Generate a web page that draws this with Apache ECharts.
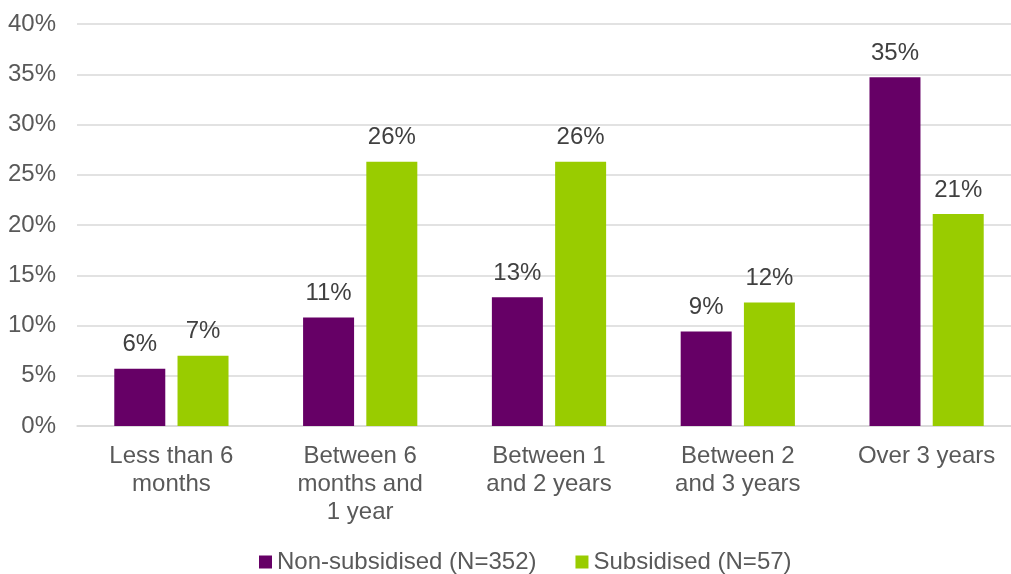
<!DOCTYPE html>
<html>
<head>
<meta charset="utf-8">
<script src="https://cdn.jsdelivr.net/npm/echarts@6/dist/echarts.min.js"></script>
<style>
  html, body { margin: 0; padding: 0; background: #fff; overflow: hidden; }
  /* the plot area continues a little past the right edge of the window */
  #chart { width: 1021px; height: 574px; }
</style>
</head>
<body>
<div id="chart"></div>
<script>
// Length of time in role, by subsidy status (% of respondents)
const categories = ['Less than 6\nmonths', 'Between 6\nmonths and\n1 year', 'Between 1\nand 2 years', 'Between 2\nand 3 years', 'Over 3 years'];
const nonSubsidised = [5.7, 10.8, 12.8, 9.4, 34.7];
const subsidised = [7.0, 26.3, 26.3, 12.3, 21.1];
const seriesNames = ['Non-subsidised (N=352)', 'Subsidised (N=57)'];
const yTicks = { min: 0, max: 40, interval: 5 };

const FONT = '"Liberation Sans", Arial, sans-serif';
const TEXT = '#595959';

const chart = echarts.init(document.getElementById('chart'));

function barSeries(name, data, color) {
  return {
    name: name,
    type: 'bar',
    data: data,
    barWidth: 51,
    barGap: '24%',
    itemStyle: { color: color },
    label: {
      show: true,
      position: 'top',
      distance: 12,
      color: '#404040',
      fontFamily: FONT,
      fontSize: 24,
      formatter: p => Math.round(p.value) + '%'
    }
  };
}

chart.setOption({
  animation: false,
  textStyle: { fontFamily: FONT },
  grid: { left: 77, right: 0, top: 24, bottom: 148, containLabel: false },
  legend: {
    left: 259,
    top: 550,
    padding: 0,
    itemWidth: 13,
    itemHeight: 13,
    itemGap: 39,
    icon: 'rect',
    textStyle: { color: TEXT, fontSize: 24, fontFamily: FONT, lineHeight: 24 },
    data: seriesNames
  },
  xAxis: {
    type: 'category',
    data: categories,
    axisLine: { lineStyle: { color: '#d9d9d9', width: 1.5 } },
    axisTick: { show: false },
    axisLabel: { color: TEXT, fontSize: 24, fontFamily: FONT, lineHeight: 28, margin: 16, interval: 0 }
  },
  yAxis: {
    type: 'value',
    min: yTicks.min,
    max: yTicks.max,
    interval: yTicks.interval,
    axisLine: { show: false },
    axisTick: { show: false },
    splitLine: { lineStyle: { color: '#d9d9d9', width: 1.5 } },
    axisLabel: { color: TEXT, fontSize: 24, fontFamily: FONT, margin: 21, formatter: v => v + '%' }
  },
  series: [
    barSeries(seriesNames[0], nonSubsidised, '#660066'),
    barSeries(seriesNames[1], subsidised, '#99cc00')
  ]
});
</script>
</body>
</html>
